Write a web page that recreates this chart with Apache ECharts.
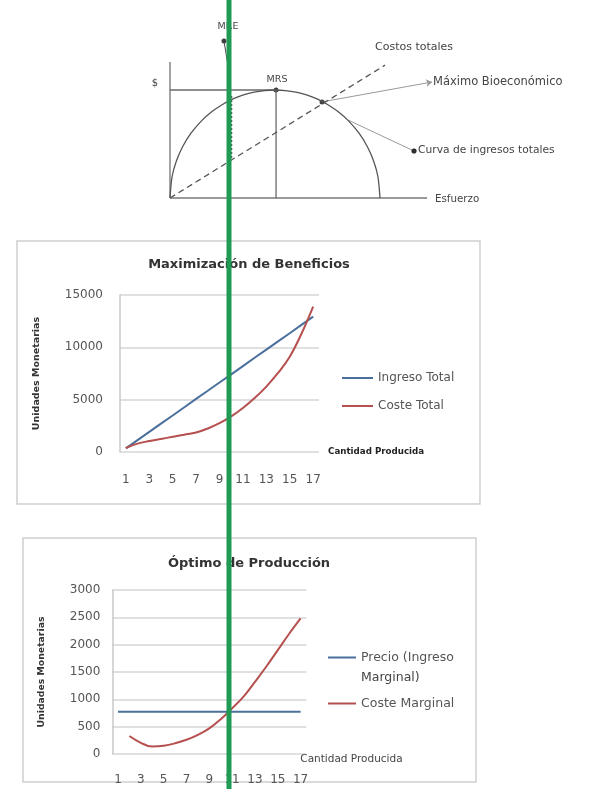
<!DOCTYPE html>
<html>
<head>
<meta charset="utf-8">
<script src="https://cdn.jsdelivr.net/npm/echarts@6/dist/echarts.min.js"></script>
<style>html,body{margin:0;padding:0;background:#fff;}#c{width:590px;height:789px;}</style>
</head>
<body>
<div id="c"></div>
<script>
// ---- Top schematic (esfuerzo vs $) ----
var revenueCurve = [[0,0],[0.1,1.99],[0.3,3.41],[0.6,4.75],[1,6.0],[1.5,7.14],[2,8.0],[2.5,8.66],[3,9.17],[3.5,9.54],[4,9.8],[4.5,9.95],[5,10],[5.5,9.95],[6,9.8],[6.5,9.54],[7,9.17],[7.5,8.66],[8,8.0],[8.5,7.14],[9,6.0],[9.4,4.75],[9.7,3.41],[9.9,1.99],[10,0]];
var costLine = [[0,0],[10.24,12.3]];
var axisX = [[0,0],[12.24,0]];
var axisY = [[0,0],[0,12.6]];
var mrsH = [[0,10],[5.05,10]];
var mrsV = [[5.05,0],[5.05,10]];
var mbePoint = [7.24,8.9];
var mrsPoint = [5.05,10];
var mrePoint = [2.57,14.54];
var mbeLabelPoint = [12.48,10.74];
var curveFrom = [8.5,7.2];
var curveLabelPoint = [11.62,4.35];
var mreLine = [[2.57,14.54],[2.75,12.4]];
var mreDotted = [[2.93,3.7],[2.93,9.5]];

// ---- Chart 2: Maximización de Beneficios ----
var qCats = ['1','2','3','4','5','6','7','8','9','10','11','12','13','14','15','16','17'];
var ingresoTotal = [350,1140,1920,2710,3490,4280,5070,5850,6640,7420,8210,9000,9780,10570,11350,12140,12930];
var costeTotal = [380,800,1050,1250,1450,1650,1870,2250,2750,3400,4200,5150,6250,7550,9100,11300,13900];
var yTicks2 = [0,5000,10000,15000];

// ---- Chart 3: Óptimo de Producción ----
var precio = [775,775,775,775,775,775,775,775,775,775,775,775,775,775,775,775,775];
var costeMarginal = [null,330,205,135,150,195,260,350,470,635,835,1050,1320,1600,1900,2200,2480];
var yTicks3 = [0,500,1000,1500,2000,2500,3000];

var FONT = 'DejaVu Sans';
var BLUE = '#4a6f9c';
var RED = '#b5504f';
var GRID = '#d6d6d6';

function seg(data, style, extra){
  var s = {type:'line', xAxisIndex:0, yAxisIndex:0, data:data, symbol:'none', silent:true,
    lineStyle: style, animation:false};
  if (extra) for (var k in extra) s[k]=extra[k];
  return s;
}
function plain(v){ return String(v); }

var chart = echarts.init(document.getElementById('c'), null, {renderer:'canvas'});
var txt = function(x,y,t,size,align){
  return {type:'text', x:x, y:y, silent:true, z:5,
    style:{text:t, fontSize:size, fontFamily:FONT, fill:'#444', align:align||'left', verticalAlign:'middle'}};
};

var option = {
  animation:false,
  textStyle:{fontFamily:FONT},
  title:[
    {text:'Maximización de Beneficios', left:249, top:258, textAlign:'center', padding:0,
      textStyle:{fontSize:13, fontWeight:'bold', color:'#333', fontFamily:FONT}},
    {text:'Óptimo de Producción', left:249, top:557, textAlign:'center', padding:0,
      textStyle:{fontSize:13, fontWeight:'bold', color:'#333', fontFamily:FONT}}
  ],
  legend:[
    {data:['Ingreso Total'], left:342, top:372, padding:0, orient:'vertical', icon:'rect', itemWidth:31, itemHeight:2,
      textStyle:{fontSize:12, color:'#555', fontFamily:FONT}},
    {data:['Coste Total'], left:342, top:400, padding:0, orient:'vertical', icon:'rect', itemWidth:31, itemHeight:2,
      textStyle:{fontSize:12, color:'#555', fontFamily:FONT}},
    {data:['Precio (Ingreso Marginal)'], left:328, top:651, padding:0, orient:'vertical', icon:'rect', itemWidth:28, itemHeight:2,
      formatter:function(){return 'Precio (Ingreso';},
      textStyle:{fontSize:12.5, color:'#555', fontFamily:FONT}},
    {data:['Coste Marginal'], left:328, top:697, padding:0, orient:'vertical', icon:'rect', itemWidth:28, itemHeight:2,
      textStyle:{fontSize:12.5, color:'#555', fontFamily:FONT}}
  ],
  grid:[
    {left:170, top:9, width:399, height:189},
    {left:120, top:295, width:199, height:157},
    {left:112.3, top:590, width:194, height:164}
  ],
  xAxis:[
    {gridIndex:0, type:'value', min:0, max:19, show:false},
    {gridIndex:1, type:'category', data:qCats, boundaryGap:true,
      axisLine:{show:false}, axisTick:{show:false},
      axisLabel:{interval:1, margin:22, fontSize:12, color:'#555', fontFamily:FONT},
      name:'Cantidad Producida', nameLocation:'end', nameGap:9,
      nameTextStyle:{fontSize:8.7, fontWeight:'bold', color:'#222', fontFamily:FONT, align:'left', verticalAlign:'middle'}},
    {gridIndex:2, type:'category', data:qCats, boundaryGap:true,
      axisLine:{show:false}, axisTick:{show:false},
      axisLabel:{interval:1, margin:20, fontSize:12, color:'#555', fontFamily:FONT},
      name:'Cantidad Producida', nameLocation:'end', nameGap:-6,
      nameTextStyle:{fontSize:10.5, color:'#444', fontFamily:FONT, align:'left', verticalAlign:'top'}}
  ],
  yAxis:[
    {gridIndex:0, type:'value', min:0, max:17.5, show:false},
    {gridIndex:1, type:'value', min:yTicks2[0], max:yTicks2[yTicks2.length-1], interval:yTicks2[1]-yTicks2[0],
      axisLine:{show:true, lineStyle:{color:'#c8c8c8', width:1.5}}, axisTick:{show:false},
      splitLine:{lineStyle:{color:GRID, width:1.6}},
      axisLabel:{margin:17, fontSize:12, color:'#555', fontFamily:FONT, formatter:plain},
      name:'Unidades Monetarias', nameLocation:'middle', nameGap:78,
      nameTextStyle:{fontSize:9.5, fontWeight:'bold', color:'#333', fontFamily:FONT}},
    {gridIndex:2, type:'value', min:yTicks3[0], max:yTicks3[yTicks3.length-1], interval:yTicks3[1]-yTicks3[0],
      axisLine:{show:true, lineStyle:{color:'#c8c8c8', width:1.5}}, axisTick:{show:false},
      splitLine:{lineStyle:{color:GRID, width:1.6}},
      axisLabel:{margin:12, fontSize:12, color:'#555', fontFamily:FONT, formatter:plain},
      name:'Unidades Monetarias', nameLocation:'middle', nameGap:66,
      nameTextStyle:{fontSize:9.3, fontWeight:'bold', color:'#333', fontFamily:FONT}}
  ],
  series:[
    // top schematic
    seg(axisX, {color:'#9a9a9a', width:1.8}),
    seg(axisY, {color:'#9a9a9a', width:1.8}),
    seg(mrsH, {color:'#6a6a6a', width:1.3}),
    seg(mrsV, {color:'#6a6a6a', width:1.3}),
    seg(revenueCurve, {color:'#555', width:1.3}, {smooth:0.3}),
    seg(costLine, {color:'#555', width:1.3, type:[6,4]}),
    seg(mreLine, {color:'#444', width:1}),
    seg(mreDotted, {color:'#555', width:1.5, type:[2,2]}),
    {type:'lines', coordinateSystem:'cartesian2d', xAxisIndex:0, yAxisIndex:0, silent:true,
      symbol:['none','arrow'], symbolSize:6,
      lineStyle:{color:'#999', width:1, opacity:1},
      data:[{coords:[mbePoint, mbeLabelPoint]}]},
    {type:'lines', coordinateSystem:'cartesian2d', xAxisIndex:0, yAxisIndex:0, silent:true,
      symbol:['none','circle'], symbolSize:5,
      lineStyle:{color:'#999', width:1, opacity:1},
      data:[{coords:[curveFrom, curveLabelPoint]}]},
    {type:'scatter', xAxisIndex:0, yAxisIndex:0, silent:true, symbolSize:5,
      itemStyle:{color:'#111'}, data:[mbePoint, mrsPoint, mrePoint, curveLabelPoint]},
    // chart 2
    {name:'Ingreso Total', type:'line', xAxisIndex:1, yAxisIndex:1, data:ingresoTotal, symbol:'none',
      lineStyle:{color:BLUE, width:2}, itemStyle:{color:BLUE}},
    {name:'Coste Total', type:'line', xAxisIndex:1, yAxisIndex:1, data:costeTotal, symbol:'none', smooth:0.4,
      lineStyle:{color:RED, width:2}, itemStyle:{color:RED}},
    // chart 3
    {name:'Precio (Ingreso Marginal)', type:'line', xAxisIndex:2, yAxisIndex:2, data:precio, symbol:'none',
      lineStyle:{color:BLUE, width:2}, itemStyle:{color:BLUE}},
    {name:'Coste Marginal', type:'line', xAxisIndex:2, yAxisIndex:2, data:costeMarginal, symbol:'none', smooth:0.4,
      lineStyle:{color:RED, width:2}, itemStyle:{color:RED}}
  ],
  graphic:[
    {type:'rect', silent:true, z:-1, shape:{x:17, y:241, width:463, height:263},
      style:{fill:'none', stroke:'#cfcfcf', lineWidth:1.5}},
    {type:'rect', silent:true, z:-1, shape:{x:23, y:538, width:453, height:244},
      style:{fill:'none', stroke:'#cfcfcf', lineWidth:1.5}},
    txt(361, 678, 'Marginal)', 12.5, 'left'),
    txt(155, 83, '$', 10, 'center'),
    txt(277, 80, 'MRS', 9.5, 'center'),
    txt(228, 27, 'MRE', 9.5, 'center'),
    txt(375, 47, 'Costos totales', 11),
    txt(433, 82, 'Máximo Bioeconómico', 11.5),
    txt(418, 150, 'Curva de ingresos totales', 10.7),
    txt(435, 199, 'Esfuerzo', 10.3),
    {type:'line', silent:true, z:100, shape:{x1:229, y1:0, x2:229, y2:789},
      style:{stroke:'#1f9b54', lineWidth:5}}
  ]
};
chart.setOption(option);
</script>
</body>
</html>
